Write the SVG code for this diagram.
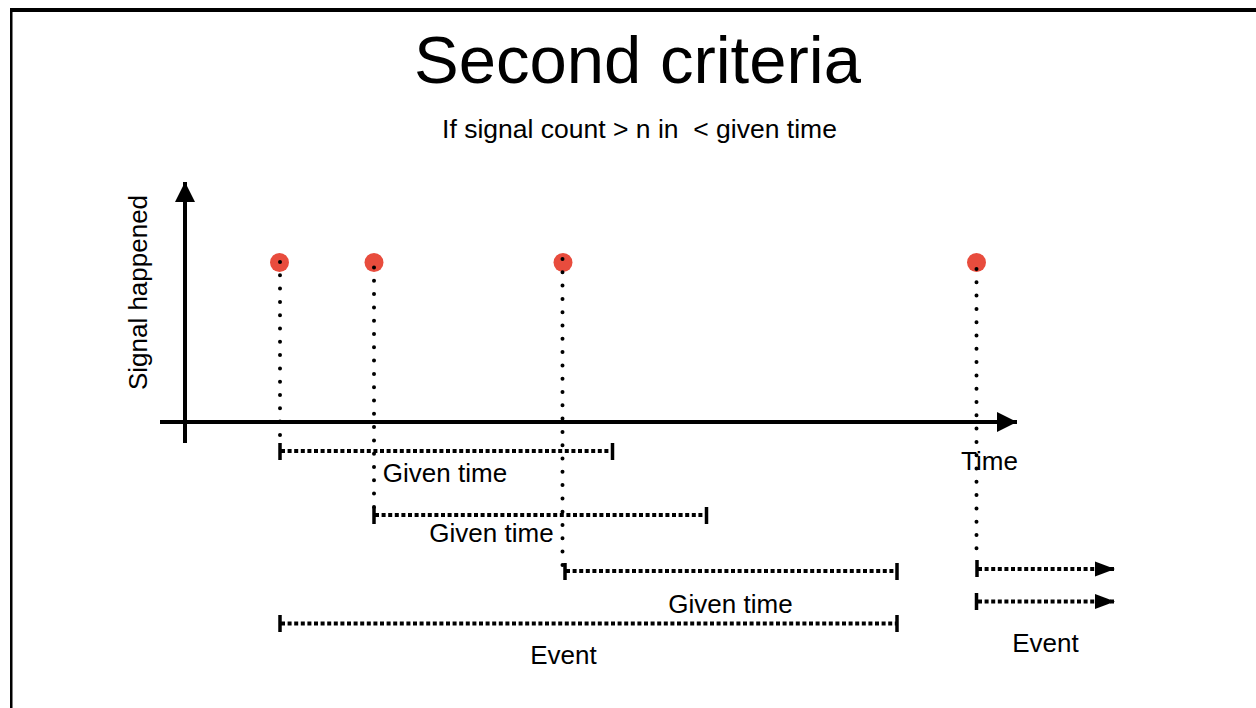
<svg xmlns="http://www.w3.org/2000/svg" width="1256" height="708" viewBox="0 0 1256 708">
<defs>
<style>
text{font-family:"Liberation Sans",Arial,sans-serif;fill:#000;white-space:pre}
.lbl{font-size:26px;text-anchor:middle}
.axis{stroke:#000;stroke-width:4;fill:none}
.dots{stroke:#000;stroke-width:4;stroke-linecap:round;stroke-dasharray:0 13.3;fill:none}
.dash{stroke:#000;stroke-width:4;stroke-dasharray:4 2.6;fill:none}
.tick{stroke:#000;stroke-width:3.5;fill:none}
.sig{fill:#e84c3d}
</style>
<marker id="axHead" markerUnits="userSpaceOnUse" markerWidth="20" markerHeight="20" refX="20" refY="10" orient="auto">
<path d="M0,0 L20,10 L0,20 Z" fill="#000"/>
</marker>
<marker id="arHead" markerUnits="userSpaceOnUse" markerWidth="20" markerHeight="16" refX="20" refY="8" orient="auto">
<path d="M0,0.5 L20,8 L0,15.5 Z" fill="#000"/>
</marker>
</defs>
<rect width="1256" height="708" fill="#fff"/>
<rect x="10" y="8" width="1246" height="4" fill="#000"/>
<rect x="10" y="8" width="2.5" height="700" fill="#000"/>

<g id="title">
<text x="637.5" y="83" style="font-size:67px;text-anchor:middle">Second criteria</text>
<text class="lbl" x="639.5" y="138" style="font-size:26.5px">If signal count &gt; n in  &lt; given time</text>
</g>

<g id="axes">
<line class="axis" x1="185" y1="443" x2="185" y2="182" marker-end="url(#axHead)"/>
<line class="axis" x1="160" y1="422" x2="1017" y2="422" marker-end="url(#axHead)"/>
<text class="lbl" transform="translate(147,292.5) rotate(-90)">Signal happened</text>
<text class="lbl" x="989.5" y="470">Time</text>
</g>

<g id="signal1"><circle class="sig" cx="279.5" cy="262.5" r="9.5"/></g>
<g id="signal2"><circle class="sig" cx="374" cy="262.5" r="9.5"/></g>
<g id="signal3"><circle class="sig" cx="563" cy="262.5" r="9.5"/></g>
<g id="signal4"><circle class="sig" cx="976.5" cy="262.5" r="9.5"/></g>

<g id="connectors">
<line class="dots" x1="280" y1="262" x2="280" y2="445"/>
<line class="dots" x1="374" y1="267.5" x2="374" y2="508"/>
<line class="dots" x1="562.5" y1="259" x2="562.5" y2="570"/>
<line class="dots" x1="976.5" y1="269" x2="976.5" y2="560"/>
</g>

<g id="window1">
<line class="dash" x1="281" y1="451" x2="612" y2="451"/>
<line class="tick" x1="280" y1="443" x2="280" y2="460"/>
<line class="tick" x1="612.5" y1="443" x2="612.5" y2="460"/>
<text class="lbl" x="445" y="482">Given time</text>
</g>

<g id="window2">
<line class="dash" x1="375" y1="515" x2="706" y2="515"/>
<line class="tick" x1="374" y1="507" x2="374" y2="524"/>
<line class="tick" x1="706.5" y1="507" x2="706.5" y2="524"/>
<text class="lbl" x="491.5" y="542">Given time</text>
</g>

<g id="window3">
<line class="dash" x1="566" y1="571" x2="897" y2="571"/>
<line class="tick" x1="565" y1="563" x2="565" y2="580"/>
<line class="tick" x1="897" y1="563" x2="897" y2="580"/>
<text class="lbl" x="730.5" y="613">Given time</text>
</g>

<g id="event1">
<line class="dash" x1="281" y1="623.5" x2="897" y2="623.5"/>
<line class="tick" x1="280" y1="615" x2="280" y2="632"/>
<line class="tick" x1="897" y1="615" x2="897" y2="632"/>
<text class="lbl" x="563.5" y="664">Event</text>
</g>

<g id="event2">
<line class="dash" x1="978" y1="569" x2="1115" y2="569" marker-end="url(#arHead)"/>
<line class="tick" x1="977" y1="560" x2="977" y2="577"/>
<line class="dash" x1="978" y1="601.5" x2="1115" y2="601.5" marker-end="url(#arHead)"/>
<line class="tick" x1="976.5" y1="593" x2="976.5" y2="610"/>
<text class="lbl" x="1045.5" y="652">Event</text>
</g>
</svg>
